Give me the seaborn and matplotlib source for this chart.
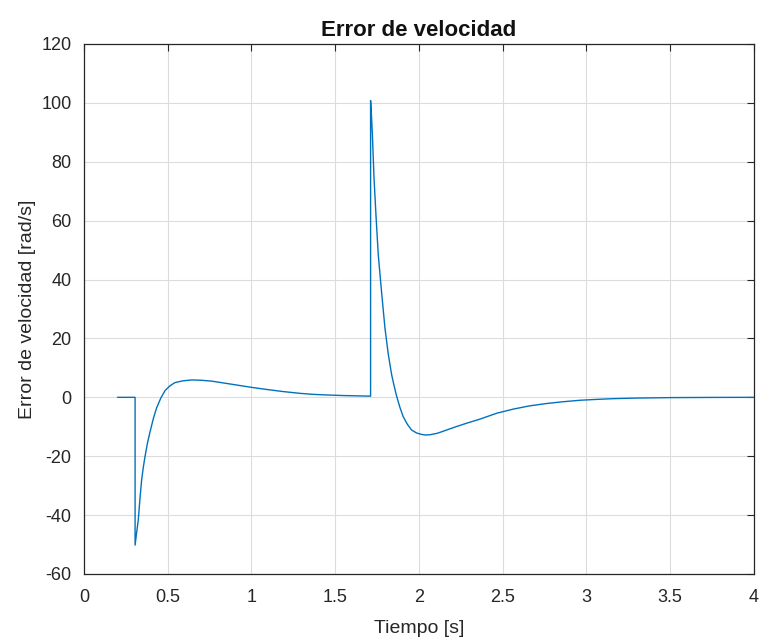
import matplotlib
matplotlib.use("Agg")
import matplotlib.pyplot as plt
import seaborn as sns
import pandas as pd

# Speed error response over time (load steps at t ~ 0.3 s and t ~ 1.71 s)
tiempo = [0.20, 0.305, 0.305, 0.314, 0.324, 0.334, 0.344, 0.354, 0.364, 0.379,
          0.394, 0.414, 0.434, 0.459, 0.484, 0.513, 0.543, 0.59, 0.643, 0.70,
          0.762, 0.842, 0.92, 1.01, 1.10, 1.19, 1.29, 1.37, 1.45, 1.55, 1.63,
          1.711,
          1.711, 1.716, 1.722, 1.731, 1.744, 1.757, 1.777, 1.797, 1.817, 1.837,
          1.851, 1.866, 1.886, 1.906, 1.931, 1.956, 1.985, 2.015, 2.04, 2.066,
          2.11, 2.165, 2.22, 2.284, 2.364, 2.464, 2.563, 2.66, 2.762, 2.86,
          2.96, 3.06, 3.16, 3.30, 3.50, 3.75, 4.00]
error_vel = [0.0, 0.0, -50.2, -46.0, -41.7, -34.5, -28.1, -23.8, -20.2, -15.5,
             -11.8, -7.2, -3.5, -0.2, 2.3, 3.9, 5.0, 5.6, 5.9, 5.8,
             5.5, 4.8, 4.1, 3.3, 2.6, 1.95, 1.35, 1.0, 0.8, 0.6, 0.5,
             0.4,
             100.8, 96.0, 89.0, 75.0, 61.0, 48.3, 35.5, 23.4, 14.5, 7.6,
             4.0, 0.5, -3.4, -6.6, -9.2, -11.1, -12.1, -12.6, -12.8, -12.7,
             -12.2, -11.1, -10.0, -8.8, -7.4, -5.4, -4.0, -2.9, -2.1, -1.5,
             -1.0, -0.7, -0.45, -0.25, -0.1, -0.03, 0.0]

df = pd.DataFrame({"Tiempo": tiempo, "Error": error_vel})

sns.set_style("white")
plt.rcParams["font.family"] = ["Liberation Sans", "DejaVu Sans"]
plt.rcParams["axes.unicode_minus"] = False

fig = plt.figure(figsize=(7.65, 6.44), dpi=100)
ax = fig.add_axes([0.1098, 0.1087, 0.8758, 0.8230])

sns.lineplot(data=df, x="Tiempo", y="Error", sort=False, estimator=None,
             color="#0072BD", linewidth=1.0, ax=ax)

ax.set_xlim(0, 4)
ax.set_ylim(-60, 120)
ax.set_xticks([0, 0.5, 1, 1.5, 2, 2.5, 3, 3.5, 4])
ax.set_xticklabels(["0", "0.5", "1", "1.5", "2", "2.5", "3", "3.5", "4"])
ax.set_yticks(range(-60, 121, 20))

ax.grid(True, color="#dcdcdc", linewidth=0.8)
ax.set_axisbelow(True)
for s in ax.spines.values():
    s.set_color("#262626")
    s.set_linewidth(0.9)
ax.tick_params(direction="in", length=5, width=0.8, colors="#262626",
               labelsize=13, top=True, right=True)
ax.tick_params(axis="x", pad=11)
ax.tick_params(axis="y", pad=9)

ax.set_xlabel("Tiempo [s]", fontsize=14, color="#262626", labelpad=10)
ax.set_ylabel("Error de velocidad [rad/s]", fontsize=14, color="#262626", labelpad=4)
ax.set_title("Error de velocidad", fontsize=16, fontweight="bold", color="#111111", pad=6)

fig.savefig("out.png", dpi=100)
